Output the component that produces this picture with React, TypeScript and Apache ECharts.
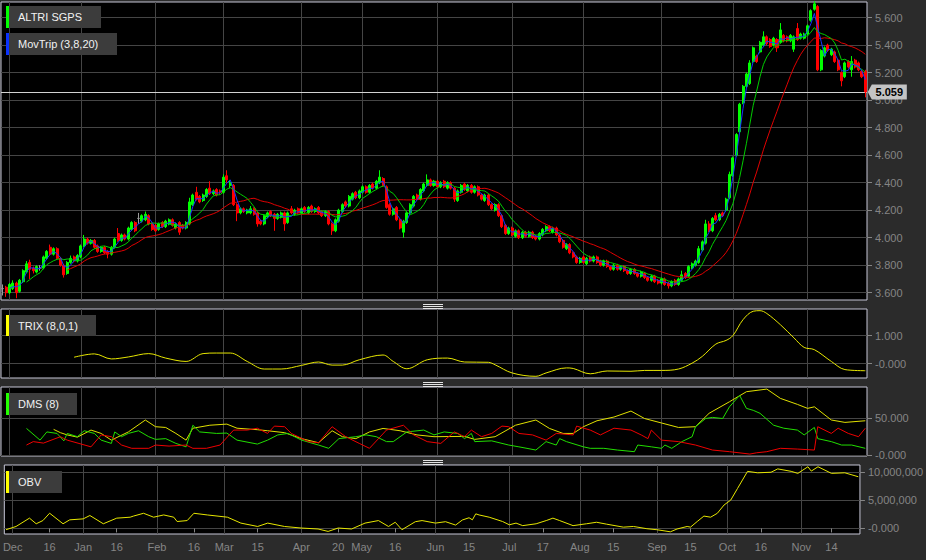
import React, { useEffect, useRef } from 'react';
import * as echarts from 'echarts';

// ---------- calendar (Euronext Lisbon trading days) ----------
const FIRST_DAY = '2016-11-29';
const LAST_DAY = '2017-11-24';
const marketHolidays = ['2016-12-26', '2017-04-14', '2017-04-17', '2017-05-01'];

function tradingDays(): string[] {
  const out: string[] = [];
  const d = new Date(FIRST_DAY + 'T00:00:00Z');
  const end = new Date(LAST_DAY + 'T00:00:00Z');
  while (d <= end) {
    const wd = d.getUTCDay();
    const s = d.toISOString().slice(0, 10);
    if (wd !== 0 && wd !== 6 && !marketHolidays.includes(s)) out.push(s);
    d.setUTCDate(d.getUTCDate() + 1);
  }
  return out;
}
const dates = tradingDays();

// x-axis tick labels [date, label]
const tickLabels: [string, string][] = [
  ['2016-12-01', 'Dec'], ['2016-12-16', '16'], ['2017-01-02', 'Jan'], ['2017-01-16', '16'],
  ['2017-02-01', 'Feb'], ['2017-02-16', '16'], ['2017-03-01', 'Mar'], ['2017-03-15', '15'],
  ['2017-04-03', 'Apr'], ['2017-04-20', '20'], ['2017-05-02', 'May'], ['2017-05-16', '16'],
  ['2017-06-01', 'Jun'], ['2017-06-15', '15'], ['2017-07-03', 'Jul'], ['2017-07-17', '17'],
  ['2017-08-01', 'Aug'], ['2017-08-15', '15'], ['2017-09-01', 'Sep'], ['2017-09-15', '15'],
  ['2017-10-02', 'Oct'], ['2017-10-16', '16'], ['2017-11-01', 'Nov'], ['2017-11-14', '14'],
];

// y-axis ticks
const priceTicks = [3.6, 3.8, 4.0, 4.2, 4.4, 4.6, 4.8, 5.0, 5.2, 5.4, 5.6];
const trixTicks = [0, 1];
const dmsTicks = [0, 50];
const obvTicksMillions = [0, 5, 10];

// ---------- ALTRI SGPS daily candles [open, close, low, high] ----------
const ohlc: number[][] = [
  // 0
  [3.63, 3.63, 3.58, 3.66], [3.64, 3.60, 3.57, 3.65], [3.60, 3.66, 3.59, 3.67], [3.63, 3.67, 3.62, 3.69], [3.67, 3.60, 3.56, 3.68],
  // 5
  [3.61, 3.69, 3.60, 3.70], [3.68, 3.76, 3.67, 3.77], [3.75, 3.81, 3.74, 3.83], [3.82, 3.77, 3.70, 3.84], [3.78, 3.76, 3.74, 3.79],
  // 10
  [3.75, 3.79, 3.74, 3.80], [3.78, 3.78, 3.76, 3.80], [3.78, 3.86, 3.77, 3.87], [3.85, 3.90, 3.84, 3.91], [3.93, 3.88, 3.87, 3.95],
  // 15
  [3.88, 3.92, 3.87, 3.93], [3.92, 3.85, 3.84, 3.93], [3.85, 3.80, 3.79, 3.86], [3.80, 3.73, 3.71, 3.81], [3.74, 3.82, 3.73, 3.83],
  // 20
  [3.82, 3.85, 3.81, 3.87], [3.86, 3.83, 3.82, 3.87], [3.83, 3.87, 3.82, 3.88], [3.86, 3.94, 3.85, 3.95], [3.94, 3.99, 3.93, 4.02],
  // 25
  [3.99, 3.96, 3.95, 4.00], [3.96, 3.98, 3.95, 3.99], [3.98, 3.93, 3.92, 3.99], [3.94, 3.90, 3.89, 3.95], [3.90, 3.93, 3.89, 3.94],
  // 30
  [3.93, 3.89, 3.88, 3.94], [3.90, 3.88, 3.85, 3.91], [3.88, 3.93, 3.87, 3.94], [3.93, 3.99, 3.92, 4.00], [4.03, 3.98, 3.97, 4.07],
  // 35
  [3.98, 4.02, 3.97, 4.03], [4.02, 3.99, 3.98, 4.03], [3.99, 4.07, 3.98, 4.08], [4.06, 4.11, 4.05, 4.12], [4.11, 4.05, 4.04, 4.12],
  // 40
  [4.14, 4.14, 4.10, 4.18], [4.12, 4.16, 4.11, 4.17], [4.13, 4.17, 4.12, 4.19], [4.16, 4.10, 4.09, 4.17], [4.10, 4.06, 4.05, 4.11],
  // 45
  [4.09, 4.05, 4.04, 4.10], [4.06, 4.10, 4.05, 4.11], [4.11, 4.08, 4.07, 4.12], [4.08, 4.12, 4.07, 4.13], [4.10, 4.13, 4.09, 4.14],
  // 50
  [4.13, 4.09, 4.08, 4.14], [4.07, 4.10, 4.06, 4.11], [4.11, 4.04, 4.02, 4.12], [4.09, 4.07, 4.06, 4.10], [4.07, 4.11, 4.06, 4.12],
  // 55
  [4.10, 4.26, 4.09, 4.29], [4.24, 4.31, 4.23, 4.32], [4.33, 4.28, 4.27, 4.37], [4.30, 4.26, 4.25, 4.31], [4.27, 4.31, 4.26, 4.32],
  // 60
  [4.30, 4.35, 4.29, 4.36], [4.36, 4.32, 4.31, 4.41], [4.32, 4.34, 4.31, 4.35], [4.35, 4.31, 4.30, 4.36], [4.34, 4.33, 4.31, 4.35],
  // 65
  [4.33, 4.44, 4.32, 4.46], [4.45, 4.42, 4.40, 4.49], [4.38, 4.40, 4.36, 4.42], [4.38, 4.24, 4.23, 4.39], [4.24, 4.18, 4.12, 4.25],
  // 70
  [4.18, 4.21, 4.17, 4.22], [4.21, 4.19, 4.18, 4.22], [4.18, 4.20, 4.17, 4.21], [4.18, 4.21, 4.17, 4.23], [4.21, 4.17, 4.16, 4.22],
  // 75
  [4.18, 4.10, 4.08, 4.19], [4.12, 4.10, 4.09, 4.13], [4.10, 4.16, 4.09, 4.17], [4.15, 4.18, 4.14, 4.19], [4.19, 4.16, 4.15, 4.20],
  // 80
  [4.17, 4.14, 4.05, 4.18], [4.14, 4.17, 4.13, 4.18], [4.15, 4.18, 4.14, 4.19], [4.18, 4.10, 4.05, 4.19], [4.11, 4.18, 4.10, 4.19],
  // 85
  [4.21, 4.18, 4.17, 4.23], [4.17, 4.20, 4.16, 4.21], [4.21, 4.18, 4.17, 4.22], [4.18, 4.21, 4.17, 4.22], [4.22, 4.19, 4.18, 4.23],
  // 90
  [4.18, 4.22, 4.17, 4.23], [4.23, 4.19, 4.18, 4.24], [4.19, 4.21, 4.18, 4.22], [4.22, 4.18, 4.17, 4.23], [4.19, 4.16, 4.15, 4.20],
  // 95
  [4.16, 4.19, 4.15, 4.20], [4.19, 4.10, 4.09, 4.20], [4.10, 4.05, 4.02, 4.11], [4.05, 4.13, 4.04, 4.14], [4.12, 4.20, 4.11, 4.21],
  // 100
  [4.19, 4.24, 4.18, 4.25], [4.26, 4.23, 4.22, 4.27], [4.23, 4.30, 4.22, 4.31], [4.28, 4.32, 4.27, 4.33], [4.33, 4.29, 4.28, 4.34],
  // 105
  [4.29, 4.34, 4.28, 4.35], [4.33, 4.37, 4.32, 4.38], [4.37, 4.33, 4.32, 4.38], [4.33, 4.38, 4.32, 4.39], [4.39, 4.36, 4.35, 4.40],
  // 110
  [4.36, 4.41, 4.35, 4.42], [4.40, 4.44, 4.39, 4.49], [4.43, 4.38, 4.37, 4.44], [4.37, 4.22, 4.21, 4.38], [4.24, 4.17, 4.16, 4.25],
  // 115
  [4.17, 4.21, 4.16, 4.22], [4.22, 4.13, 4.12, 4.23], [4.13, 4.07, 4.06, 4.14], [4.04, 4.12, 4.00, 4.13], [4.11, 4.18, 4.10, 4.19],
  // 120
  [4.18, 4.24, 4.17, 4.25], [4.23, 4.30, 4.22, 4.31], [4.31, 4.28, 4.27, 4.32], [4.28, 4.35, 4.27, 4.36], [4.34, 4.39, 4.33, 4.40],
  // 125
  [4.38, 4.42, 4.37, 4.46], [4.42, 4.38, 4.37, 4.43], [4.38, 4.41, 4.37, 4.42], [4.41, 4.37, 4.36, 4.42], [4.37, 4.40, 4.36, 4.41],
  // 130
  [4.41, 4.37, 4.36, 4.42], [4.36, 4.40, 4.35, 4.41], [4.40, 4.36, 4.35, 4.41], [4.36, 4.28, 4.26, 4.37], [4.27, 4.34, 4.26, 4.35],
  // 135
  [4.33, 4.38, 4.32, 4.39], [4.39, 4.35, 4.34, 4.40], [4.34, 4.38, 4.33, 4.39], [4.38, 4.33, 4.32, 4.39], [4.33, 4.37, 4.32, 4.38],
  // 140
  [4.37, 4.31, 4.30, 4.38], [4.31, 4.28, 4.27, 4.32], [4.27, 4.31, 4.26, 4.32], [4.31, 4.24, 4.23, 4.32], [4.24, 4.21, 4.20, 4.25],
  // 145
  [4.20, 4.24, 4.19, 4.25], [4.24, 4.16, 4.15, 4.25], [4.16, 4.08, 4.07, 4.17], [4.09, 4.03, 4.02, 4.10], [4.03, 4.07, 4.02, 4.08],
  // 150
  [4.07, 4.02, 4.01, 4.08], [4.01, 4.05, 4.00, 4.06], [4.05, 4.00, 3.99, 4.06], [4.00, 4.04, 3.99, 4.05], [4.04, 4.01, 4.00, 4.05],
  // 155
  [4.01, 4.04, 4.00, 4.05], [4.04, 4.00, 3.99, 4.05], [4.01, 3.99, 3.98, 4.02], [3.99, 4.03, 3.98, 4.04], [4.02, 4.06, 4.01, 4.07],
  // 160
  [4.05, 4.08, 4.04, 4.09], [4.08, 4.05, 4.04, 4.09], [4.04, 4.07, 4.03, 4.08], [4.07, 4.02, 4.01, 4.08], [4.02, 3.97, 3.96, 4.03],
  // 165
  [3.98, 3.93, 3.92, 3.99], [3.92, 3.95, 3.91, 3.96], [3.95, 3.89, 3.88, 3.96], [3.89, 3.86, 3.85, 3.90], [3.86, 3.82, 3.81, 3.87],
  // 170
  [3.82, 3.85, 3.81, 3.86], [3.86, 3.82, 3.81, 3.87], [3.81, 3.85, 3.80, 3.86], [3.86, 3.83, 3.82, 3.87], [3.83, 3.86, 3.82, 3.87],
  // 175
  [3.86, 3.82, 3.81, 3.87], [3.83, 3.80, 3.79, 3.84], [3.80, 3.83, 3.79, 3.84], [3.83, 3.79, 3.78, 3.84], [3.79, 3.77, 3.76, 3.80],
  // 180
  [3.77, 3.80, 3.76, 3.81], [3.80, 3.77, 3.76, 3.81], [3.77, 3.79, 3.76, 3.80], [3.79, 3.76, 3.75, 3.80], [3.76, 3.74, 3.73, 3.77],
  // 185
  [3.74, 3.77, 3.73, 3.78], [3.77, 3.74, 3.73, 3.78], [3.74, 3.72, 3.71, 3.75], [3.72, 3.75, 3.71, 3.76], [3.74, 3.71, 3.70, 3.75],
  // 190
  [3.71, 3.69, 3.68, 3.72], [3.69, 3.72, 3.68, 3.73], [3.72, 3.68, 3.67, 3.73], [3.69, 3.67, 3.66, 3.70], [3.67, 3.70, 3.66, 3.71],
  // 195
  [3.70, 3.66, 3.65, 3.71], [3.67, 3.65, 3.63, 3.68], [3.65, 3.68, 3.64, 3.69], [3.69, 3.66, 3.65, 3.70], [3.66, 3.70, 3.65, 3.71],
  // 200
  [3.69, 3.73, 3.68, 3.76], [3.74, 3.71, 3.70, 3.75], [3.72, 3.79, 3.71, 3.80], [3.78, 3.81, 3.77, 3.82], [3.80, 3.83, 3.79, 3.84],
  // 205
  [3.82, 3.92, 3.81, 3.94], [3.91, 3.97, 3.90, 3.98], [3.96, 4.10, 3.95, 4.13], [4.10, 4.05, 4.04, 4.12], [4.05, 4.14, 4.04, 4.15],
  // 210
  [4.16, 4.13, 4.12, 4.18], [4.13, 4.17, 4.12, 4.18], [4.18, 4.16, 4.15, 4.19], [4.20, 4.28, 4.19, 4.29], [4.29, 4.46, 4.28, 4.48],
  // 215
  [4.45, 4.58, 4.44, 4.59], [4.60, 4.75, 4.59, 4.76], [4.77, 4.97, 4.76, 4.98], [4.98, 5.10, 4.97, 5.11], [5.10, 5.19, 5.09, 5.20],
  // 220
  [5.12, 5.27, 5.11, 5.29], [5.28, 5.38, 5.27, 5.39], [5.32, 5.28, 5.27, 5.33], [5.35, 5.42, 5.34, 5.43], [5.40, 5.46, 5.39, 5.50],
  // 225
  [5.46, 5.41, 5.40, 5.47], [5.44, 5.39, 5.38, 5.45], [5.40, 5.45, 5.39, 5.46], [5.44, 5.38, 5.35, 5.45], [5.42, 5.51, 5.41, 5.56],
  // 230
  [5.47, 5.43, 5.42, 5.48], [5.46, 5.43, 5.42, 5.47], [5.43, 5.47, 5.42, 5.48], [5.37, 5.46, 5.35, 5.47], [5.52, 5.44, 5.43, 5.56],
  // 235
  [5.45, 5.48, 5.44, 5.49], [5.45, 5.48, 5.44, 5.49], [5.48, 5.54, 5.47, 5.55], [5.58, 5.65, 5.57, 5.66], [5.66, 5.70, 5.65, 5.72],
  // 240
  [5.68, 5.22, 5.21, 5.69], [5.22, 5.36, 5.21, 5.37], [5.32, 5.38, 5.31, 5.39], [5.40, 5.36, 5.35, 5.41], [5.33, 5.37, 5.32, 5.38],
  // 245
  [5.35, 5.28, 5.27, 5.36], [5.29, 5.22, 5.21, 5.30], [5.20, 5.14, 5.10, 5.21], [5.17, 5.27, 5.16, 5.28], [5.28, 5.24, 5.23, 5.29],
  // 250
  [5.22, 5.28, 5.17, 5.32], [5.29, 5.24, 5.23, 5.30], [5.27, 5.22, 5.21, 5.28], [5.21, 5.17, 5.16, 5.22], [5.21, 5.059, 5.02, 5.22],
];

// ---------- indicator readings [dayIndex, value] ----------
const trixPoints: [number, number][] = [
  [21, 0.23], [27, 0.35], [32, 0.17], [37, 0.24], [43, 0.36], [48, 0.2], [54, 0.08], [59, 0.36], [63, 0.38], [67, 0.38],
  [72, 0.08], [77, -0.19], [82, -0.19], [88, -0.06], [93, 0.06], [97, -0.05], [100, -0.05], [105, 0.14], [112, 0.31], [115, 0.08],
  [119, -0.18], [125, 0.14], [131, 0.2], [136, 0.06], [143, 0.05], [145, -0.04], [150, -0.33], [157, -0.45], [160, -0.33], [166, -0.15],
  [168, -0.17], [173, -0.36], [178, -0.26], [185, -0.27], [189, -0.24], [194, -0.24], [199, -0.19], [203, 0.02], [206, 0.26], [210, 0.70],
  [213, 0.83], [215, 1.0], [218, 1.57], [221, 1.87], [223, 1.89], [225, 1.79], [229, 1.39], [233, 0.92], [236, 0.58], [239, 0.5],
  [244, 0.08], [248, -0.21], [254, -0.25],
];

const dmsYellow: [number, number][] = [
  [15, 34.4], [17, 30], [19, 27], [22, 24], [26, 33.5], [29, 29], [32, 20], [37, 31], [42, 47], [45, 38],
  [48, 37], [51, 29], [54, 20], [56, 36], [61, 40], [66, 41.5], [69, 36], [75, 34], [78, 32.6], [83, 30],
  [88, 22], [93, 16.5], [97, 32.6], [100, 24.6], [104, 22], [108, 31], [112, 35.7], [117, 32.6], [122, 27], [127, 24.6],
  [136, 25], [139, 21], [145, 24.6], [151, 40], [157, 47], [161, 35.7], [165, 29], [168, 29], [171, 38], [175, 46],
  [180, 51], [185, 59], [189, 49], [194, 43], [199, 37], [204, 38], [208, 56], [214, 71.5], [219, 85], [225, 88.5],
  [229, 76], [234, 68], [237, 62.6], [239, 64.7], [244, 47], [248, 43.8], [254, 46],
];

const dmsGreen: [number, number][] = [
  [7, 35.7], [11, 20], [13, 31], [16, 29], [18, 19], [19, 29], [22, 24.6], [24, 32.6], [27, 29], [29, 20],
  [32, 15.6], [33, 31], [35, 24.6], [37, 29], [40, 32.6], [43, 24.6], [45, 21], [48, 22], [51, 15.6], [54, 11],
  [56, 40], [58, 31], [63, 29], [66, 29.5], [69, 20], [75, 14.7], [78, 20], [81, 27], [84, 29], [88, 20],
  [93, 13.4], [96, 9], [99, 22], [104, 24.6], [107, 27], [110, 24.6], [113, 18], [115, 18], [119, 31], [124, 33.5],
  [127, 27], [130, 31], [134, 29], [136, 22], [138, 29], [139, 18], [144, 19], [149, 13.4], [152, 11], [157, 6.7],
  [160, 18], [163, 13.4], [164, 22], [166, 18], [171, 11], [173, 9], [177, 9], [181, 6.7], [186, 4.5], [187, 13.4],
  [191, 11], [194, 9], [195, 13.4], [197, 9], [200, 18], [203, 24.6], [204, 38], [207, 49], [209, 50.5], [212, 49],
  [214, 64.7], [217, 80], [219, 62.6], [221, 60], [223, 56], [227, 40], [230, 36], [234, 33.5], [236, 27], [239, 37],
  [240, 22], [244, 18], [247, 13.4], [250, 13.4], [254, 9],
];

const dmsRed: [number, number][] = [
  [7, 13.4], [9, 18], [12, 16], [17, 24.6], [19, 20], [26, 11], [29, 27], [32, 24.6], [35, 13.4], [38, 9],
  [43, 9], [45, 13.4], [49, 12], [54, 13.4], [56, 9], [60, 9], [64, 13.4], [68, 33.5], [72, 33.5], [75, 36],
  [78, 29], [80, 38.8], [83, 38], [85, 29], [90, 18], [93, 16.5], [97, 38], [101, 24.6], [105, 15.6], [108, 9],
  [113, 33.5], [118, 40], [121, 27], [125, 18], [129, 15.6], [133, 31], [136, 24.6], [138, 33.5], [141, 24.6], [144, 29],
  [147, 38.8], [149, 38], [152, 29], [156, 27], [160, 20], [163, 29], [168, 27], [169, 38.8], [173, 33.5], [176, 27],
  [180, 36], [185, 33.5], [188, 27], [190, 22], [191, 33.5], [194, 20], [199, 18], [204, 13.4], [209, 6.7], [214, 4.5],
  [220, 1.3], [222, 3], [225, 4.5], [229, 9], [234, 8], [239, 6.7], [240, 38], [244, 29], [246, 36], [249, 29],
  [252, 24.6], [254, 36],
];

// OBV in millions
const obvMillions: [number, number][] = [
  [0, -0.23], [3, 0.35], [7, 1.83], [9, 0.83], [11, 1.4], [13, 2.71], [17, 0.83], [19, 1.53], [23, 1.7], [25, 2.3],
  [29, 0.83], [33, 1.83], [37, 2.0], [38, 2.2], [41, 2.7], [44, 2.0], [47, 2.4], [50, 2.0], [51, 1.23], [54, 1.4],
  [56, 2.7], [60, 2.4], [66, 2.0], [70, 0.95], [75, 0.35], [78, 0.95], [83, 0.35], [88, 0.07], [93, -0.1], [96, -0.53],
  [99, 0.07], [103, -0.1], [107, 0.95], [111, 1.4], [114, 0.35], [116, 1.1], [118, -0.23], [122, 1.2], [124, 1.4], [128, 0.95],
  [131, 1.2], [134, 0.6], [136, 1.5], [138, 1.9], [139, 1.53], [140, 2.6], [141, 2.4], [144, 2.0], [148, 1.23], [150, 0.65],
  [152, 0.95], [154, 0.5], [158, 0.83], [161, 1.4], [163, 1.83], [165, 1.4], [169, 0.5], [173, 0.83], [176, 1.1], [179, 0.76],
  [184, 0.23], [187, 0.35], [191, -0.05], [194, -0.23], [198, -0.6], [200, -0.1], [203, 0.35], [204, 0.23], [206, 1.23], [208, 2.2],
  [210, 2.0], [212, 2.7], [214, 4.17], [216, 5.05], [218, 7.1], [221, 10.16], [224, 9.9], [228, 10.0], [230, 10.6], [234, 10.16],
  [236, 9.8], [239, 10.98], [240, 10.2], [242, 10.98], [246, 9.8], [250, 9.9], [254, 9.2],
];

// ---------- styling / layout ----------
const FONT = 'Liberation Sans, Arial, Helvetica, sans-serif';
const PAGE_BG = '#2b2b2b';
const BORDER = '#c6c6d6';
const GRIDLINE = '#454545';
const AXIS_TEXT = '#858585';

const closes = ohlc.map((c) => c[1]);
const lastPrice = closes[closes.length - 1];

function movingAverage(period: number) {
  return closes.map((_, i) => {
    if (i < period - 1) return '-';
    let s = 0;
    for (let k = i - period + 1; k <= i; k++) s += closes[k];
    return +(s / period).toFixed(4);
  });
}

const labelMap = new Map(tickLabels);
const monthStarts = tickLabels.filter(([, l]) => isNaN(Number(l))).map(([d]) => d);

const legendBoxes = [
  { x: 6, y: 6, w: 95, h: 22, color: '#00ff00', text: 'ALTRI SGPS' },
  { x: 6, y: 33, w: 111, h: 22, color: '#0a32ff', text: 'MovTrip (3,8,20)' },
  { x: 6, y: 315, w: 90, h: 21, color: '#ffff00', text: 'TRIX (8,0,1)' },
  { x: 6, y: 393, w: 71, h: 22, color: '#22ff00', text: 'DMS (8)' },
  { x: 6, y: 471, w: 56, h: 22, color: '#ffff00', text: 'OBV' },
];
const handleYs = [304, 306, 308, 382, 384, 386, 460, 462, 464];

function buildOption() {
  const gridRects = [
    { top: 2, height: 298 },
    { top: 309, height: 69 },
    { top: 387, height: 69 },
    { top: 465, height: 69 },
  ];
  const grid = gridRects.map((g) => ({
    left: 1, width: 866, top: g.top, height: g.height,
    show: true, backgroundColor: '#000000', borderColor: BORDER, borderWidth: 1,
  }));

  const xAxis = [0, 1, 2, 3].map((i) => ({
    type: 'category', gridIndex: i, data: dates, boundaryGap: true,
    axisLine: { show: false },
    axisTick: {
      show: i === 3, alignWithLabel: true, length: 4,
      interval: (_idx: number, v: string) => labelMap.has(v),
      lineStyle: { color: AXIS_TEXT },
    },
    axisLabel: {
      show: i === 3, color: AXIS_TEXT, fontSize: 11, fontFamily: FONT, margin: 7,
      interval: (_idx: number, v: string) => labelMap.has(v),
      formatter: (v: string) => labelMap.get(v) ?? '',
    },
    splitLine: { show: false },
  }));

  const zeroFmt = (v: number) => (Math.abs(v) < 1e-9 ? '-0.000' : v.toFixed(3));
  const mkY = (gridIndex: number, min: number, max: number, ticks: number[], fmt: (v: number) => string) => ({
    type: 'value', gridIndex, position: 'right', min, max,
    axisLine: { show: false },
    axisTick: { show: true, customValues: ticks, length: 5, lineStyle: { color: AXIS_TEXT } },
    axisLabel: { customValues: ticks, formatter: fmt, color: AXIS_TEXT, fontSize: 11, fontFamily: FONT, margin: 8 },
    splitLine: { show: true, lineStyle: { color: GRIDLINE, width: 1 } },
  });
  const yAxis = [
    mkY(0, 3.547, 5.713, priceTicks, (v) => v.toFixed(3)),
    mkY(1, -0.51, 1.95, trixTicks, zeroFmt),
    mkY(2, -1.3, 91.3, dmsTicks, zeroFmt),
    mkY(3, -0.99, 11.29, obvTicksMillions, (v) =>
      Math.abs(v) < 1e-9 ? '-0.000' : (v * 1e6).toLocaleString('en-US')),
  ];

  const verticalGrid = (extra: any[] = []) => ({
    silent: true, symbol: ['none', 'none'], z: 1,
    label: { show: false },
    emphasis: { disabled: true },
    lineStyle: { color: GRIDLINE, width: 1, type: 'solid' },
    data: [...monthStarts.map((d) => ({ xAxis: d })), ...extra],
  });

  const lineSeries = (name: string, data: any[], color: string, xi: number, extra: any = {}) => ({
    name, type: 'line', xAxisIndex: xi, yAxisIndex: xi, data, showSymbol: false, symbol: 'none',
    lineStyle: { color, width: 1 }, itemStyle: { color }, z: 3, silent: true, ...extra,
  });

  const series: any[] = [
    {
      name: 'ALTRI SGPS', type: 'candlestick', xAxisIndex: 0, yAxisIndex: 0, data: ohlc,
      barWidth: '74%', z: 2,
      itemStyle: {
        color: '#00ff00', color0: '#ff0000', borderColor: '#00ff00', borderColor0: '#ff0000',
        borderColorDoji: '#9a9a9a', borderWidth: 1,
      },
      markLine: verticalGrid([
        { yAxis: lastPrice, lineStyle: { color: '#d2d2d2', width: 1, type: 'solid' } },
      ]),
      markPoint: {
        silent: true, z: 10,
        symbol: 'path://M0,7.5L4,0L39,0L39,15L4,15Z',
        symbolSize: [39, 15], symbolOffset: [22, 0],
        itemStyle: { color: '#c4c4c4' },
        label: {
          show: true, formatter: lastPrice.toFixed(3), color: '#000000', fontWeight: 'bold',
          fontSize: 11, fontFamily: FONT, offset: [2, 0],
        },
        data: [{ coord: [dates[dates.length - 1], lastPrice] }],
      },
    },
    lineSeries('MA20', movingAverage(20), '#e00000', 0),
    lineSeries('MA8', movingAverage(8), '#00cc00', 0),
    lineSeries('MA3', movingAverage(3), '#1438ff', 0),
    lineSeries('TRIX', trixPoints, '#e6e600', 1, { smooth: 0.35, markLine: verticalGrid() }),
    lineSeries('DMS', dmsYellow, '#e0e000', 2, { markLine: verticalGrid() }),
    lineSeries('+DI', dmsGreen, '#22dd00', 2),
    lineSeries('-DI', dmsRed, '#ee0000', 2),
    lineSeries('OBV', obvMillions, '#e6e600', 3, { markLine: verticalGrid() }),
  ];

  const graphic: any[] = [];
  legendBoxes.forEach((b) => {
    graphic.push({ type: 'rect', z: 100, shape: { x: b.x, y: b.y, width: b.w, height: b.h }, style: { fill: '#3c3c3c' } });
    graphic.push({ type: 'rect', z: 101, shape: { x: b.x, y: b.y, width: 3, height: b.h }, style: { fill: b.color } });
    graphic.push({
      type: 'text', z: 102, x: b.x + 12, y: b.y + b.h / 2,
      style: { text: b.text, fill: '#f2f2f2', fontSize: 11, fontFamily: FONT, verticalAlign: 'middle' },
    });
  });
  handleYs.forEach((y) => {
    graphic.push({
      type: 'line', z: 100, shape: { x1: 423, y1: y + 0.5, x2: 443, y2: y + 0.5 },
      style: { stroke: '#e4e4e4', lineWidth: 1 },
    });
  });

  return {
    animation: false,
    backgroundColor: PAGE_BG,
    grid, xAxis, yAxis, series, graphic,
  };
}

export default function App() {
  const ref = useRef<HTMLDivElement>(null);
  useEffect(() => {
    if (!ref.current) return;
    const chart = echarts.init(ref.current, null, { renderer: 'svg' });
    chart.setOption(buildOption() as any);
    return () => chart.dispose();
  }, []);
  return (
    <div
      ref={ref}
      style={{ position: 'fixed', left: 0, top: 0, width: 926, height: 560, background: PAGE_BG }}
    />
  );
}
